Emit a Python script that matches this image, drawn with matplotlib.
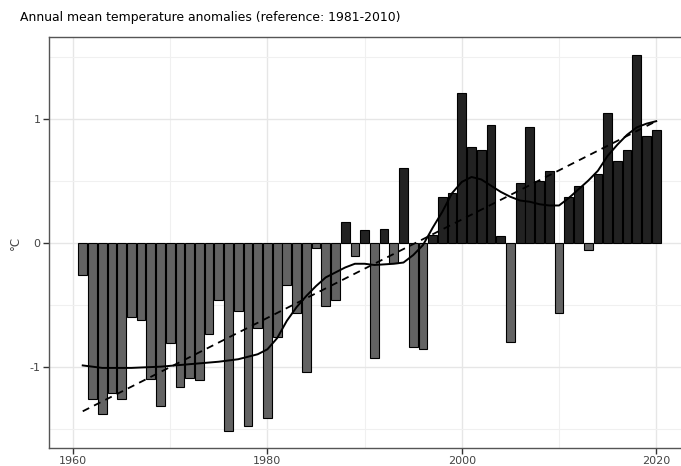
import matplotlib
matplotlib.use("Agg")
import matplotlib.pyplot as plt
import numpy as np

years = list(range(1961, 2021))
anomalies = [
    -0.26, -1.26, -1.38, -1.21, -1.26, -0.60, -0.62, -1.10, -1.32, -0.81,
    -1.16, -1.09, -1.11, -0.74, -0.46, -1.52, -0.55, -1.48, -0.69, -1.41,
    -0.76, -0.34, -0.57, -1.04, -0.04, -0.51, -0.46, 0.17, -0.11, 0.10,
    -0.93, 0.11, -0.16, 0.60, -0.84, -0.86, 0.06, 0.37, 0.40, 1.21,
    0.77, 0.75, 0.95, 0.05, -0.80, 0.48, 0.93, 0.50, 0.58, -0.57,
    0.37, 0.46, -0.06, 0.55, 1.05, 0.66, 0.75, 1.51, 0.86, 0.91,
]

smooth_years = [1961, 1963, 1966, 1969, 1972, 1975, 1977, 1979, 1980, 1981,
                1982, 1983, 1984, 1985, 1986, 1987, 1988, 1989, 1990, 1991,
                1993, 1994, 1995, 1996, 1997, 1998, 1999, 2000, 2001, 2002,
                2003, 2004, 2005, 2006, 2007, 2008, 2009, 2010, 2011, 2012,
                2013, 2014, 2015, 2016, 2017, 2018, 2019, 2020]
smooth_vals = [-0.99, -1.01, -1.01, -1.00, -0.98, -0.96, -0.94, -0.90, -0.86, -0.77,
               -0.63, -0.52, -0.43, -0.35, -0.28, -0.24, -0.20, -0.17, -0.17, -0.18,
               -0.17, -0.16, -0.10, -0.02, 0.12, 0.25, 0.40, 0.49, 0.53, 0.51,
               0.46, 0.41, 0.37, 0.34, 0.33, 0.31, 0.30, 0.30, 0.36, 0.43,
               0.50, 0.58, 0.70, 0.79, 0.87, 0.93, 0.96, 0.98]

trend_years = [1961, 2020]
trend_vals = [-1.36, 0.98]

xticks = [1960, 1980, 2000, 2020]
yticks = [-1, 0, 1]
ytick_labels = ["-1", "0", "1"]
title = "Annual mean temperature anomalies (reference: 1981-2010)"
ylabel = "°C"

W, H = 681, 466
fig = plt.figure(figsize=(W / 100, H / 100), dpi=100)
fig.patch.set_facecolor("white")
ax = fig.add_axes([49 / W, (H - 448) / H, (W - 49) / W, (448 - 37) / H])

colors = ["#222222" if v >= 0 else "#636363" for v in anomalies]
ax.bar(years, anomalies, width=0.9, color=colors, edgecolor="black",
       linewidth=0.8, zorder=3)
ax.plot(smooth_years, smooth_vals, color="black", lw=1.4, zorder=4)
ax.plot(trend_years, trend_vals, color="black", lw=1.3, ls=(0, (4, 3)), zorder=4)

ax.set_xlim(1957.53, 2022.55)
ax.set_ylim(-1.656, 1.659)
ax.set_xticks(xticks)
ax.set_xticks([1970, 1990, 2010], minor=True)
ax.set_yticks(yticks)
ax.set_yticklabels(ytick_labels)
ax.set_yticks([-1.5, -0.5, 0.5, 1.5], minor=True)
ax.grid(True, which="major", color="#e6e6e6", lw=1.0, zorder=0)
ax.grid(True, which="minor", color="#f0f0f0", lw=0.8, zorder=0)
ax.tick_params(which="minor", length=0)
ax.tick_params(which="major", length=4, width=1, color="#333333",
               labelsize=8, labelcolor="#444444", pad=2)
for s in ["left", "bottom", "top"]:
    ax.spines[s].set_color("#555555")
    ax.spines[s].set_linewidth(1.0)
ax.spines["right"].set_visible(False)

fig.text(20 / W, 1 - 18 / H, title, fontsize=8.9, va="center", ha="left")
fig.text(15 / W, 1 - 243 / H, ylabel, fontsize=8.5, rotation=90,
         va="center", ha="center", color="#444444")

fig.savefig("out.png", dpi=100)
